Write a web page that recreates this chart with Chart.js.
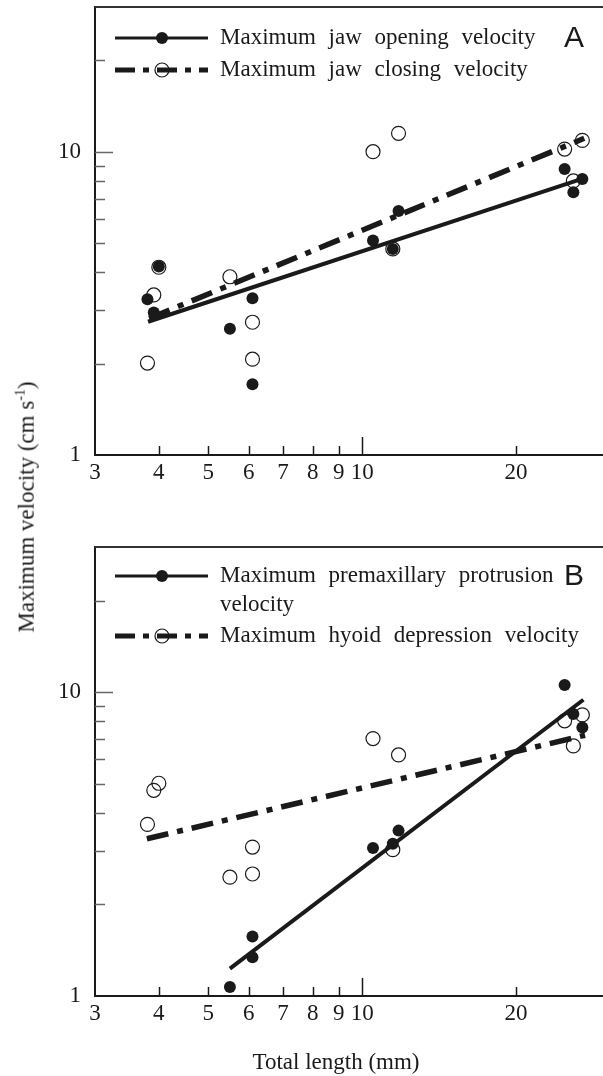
<!DOCTYPE html>
<html>
<head>
<meta charset="utf-8">
<script src="https://cdn.jsdelivr.net/npm/chart.js@4"></script>
<style>
  body { margin: 0; background: #fff; }
  #wrap { position: relative; width: 603px; height: 1076px; }
  #wrap canvas { position: absolute; left: 0; }
  .axis-title { position: absolute; font: 23px "Liberation Serif"; color: #1a1a1a; white-space: nowrap; }
  #ytitle { left: 26px; top: 507px; transform: translate(-50%, -50%) rotate(-90deg); }
  #xtitle { left: 336px; top: 1062px; transform: translate(-50%, -50%); }
  sup { font-size: 14px; }
</style>
</head>
<body>
<div id="wrap">
  <canvas id="chartA" width="603" height="500" style="top:0"></canvas>
  <canvas id="chartB" width="603" height="576" style="top:500px"></canvas>
  <div class="axis-title" id="ytitle">Maximum velocity (cm s<sup>-1</sup>)</div>
  <div class="axis-title" id="xtitle">Total length (mm)</div>
</div>
<script>
// total length of each fish (mm)
const totalLength = [3.80, 3.91, 4.00, 5.51, 6.10, 6.10, 10.5, 11.48, 11.78, 24.9, 25.9, 26.97];

// panel A
const jawOpening = [3.26, 2.95, 4.18, 2.61, 3.29, 1.71, 5.10, 4.78, 6.38, 8.77, 7.35, 8.13];
const jawClosing = [2.01, 3.37, 4.16, 3.87, 2.74, 2.07, 10.0, 4.78, 11.5, 10.2, 8.01, 10.9];
// panel B
const premaxProtrusion = [null, null, null, 1.07, 1.57, 1.34, 3.07, 3.17, 3.50, 10.55, 8.46, 7.64];
const hyoidDepression = [3.67, 4.75, 5.01, 2.46, 3.09, 2.52, 7.03, 3.03, 6.21, 8.04, 6.65, 8.41];

// regression lines (end points)
const openingFitX = [3.81, 27.1], openingFitY = [2.75, 8.17];
const closingFitX = [3.83, 27.2], closingFitY = [2.82, 11.07];
const premaxFitX = [5.51, 27.1], premaxFitY = [1.23, 9.43];
const hyoidFitX = [3.79, 27.3], hyoidFitY = [3.29, 7.21];

const xTicks = [3, 4, 5, 6, 7, 8, 9, 10, 20];
const yTicks = [1, 2, 3, 4, 5, 6, 7, 8, 9, 10, 20];
const yLabels = [1, 10];

const ink = '#1a1a1a';
const serif = 'Liberation Serif';
const dashDot = [22, 9, 6, 9];

function pts(xs, ys) {
  return xs.map((x, i) => ({x: x, y: ys[i]})).filter(p => p.y != null);
}

// short tick marks pointing into the plot + top frame line
const innerTicks = {
  id: 'innerTicks',
  afterDraw(chart) {
    const ctx = chart.ctx, a = chart.chartArea;
    const xs = chart.scales.x, ys = chart.scales.y;
    ctx.save();
    ctx.lineWidth = 1.5;
    ctx.strokeStyle = ink;
    xTicks.forEach(v => {
      if (v === 3) return;
      const px = Math.round(xs.getPixelForValue(v)) + 0.5;
      ctx.beginPath();
      ctx.moveTo(px, a.bottom);
      ctx.lineTo(px, a.bottom - (v === 10 ? 18 : 9));
      ctx.stroke();
    });
    ctx.strokeStyle = '#666';
    yTicks.forEach(v => {
      if (v === 1) return;
      const py = Math.round(ys.getPixelForValue(v)) + 0.5;
      ctx.beginPath();
      ctx.moveTo(a.left, py);
      ctx.lineTo(a.left + (v === 10 ? 18 : 10), py);
      ctx.stroke();
    });
    ctx.strokeStyle = '#333';
    ctx.lineWidth = 2;
    ctx.beginPath();
    ctx.moveTo(a.left, a.top);
    ctx.lineTo(chart.width, a.top);
    ctx.stroke();
    ctx.restore();
  }
};

// legend drawn in the upper-left corner, plus panel letter
const panelLegend = {
  id: 'panelLegend',
  afterDraw(chart, args, opts) {
    const ctx = chart.ctx;
    ctx.save();
    opts.items.forEach(item => {
      ctx.beginPath();
      ctx.setLineDash(item.dash);
      ctx.lineWidth = item.width;
      ctx.strokeStyle = ink;
      ctx.moveTo(115, item.y);
      ctx.lineTo(208, item.y);
      ctx.stroke();
      ctx.setLineDash([]);
      ctx.beginPath();
      ctx.arc(162, item.y, item.filled ? 6 : 7, 0, Math.PI * 2);
      if (item.filled) {
        ctx.fillStyle = ink;
        ctx.fill();
      } else {
        ctx.lineWidth = 1.2;
        ctx.stroke();
      }
      ctx.font = '23px "' + serif + '"';
      ctx.textBaseline = 'middle';
      ctx.fillStyle = ink;
      ctx.wordSpacing = '7px';
      item.lines.forEach((t, i) => ctx.fillText(t, 220, item.y + i * 29));
    });
    ctx.wordSpacing = '0px';
    ctx.font = '30px "Liberation Sans"';
    ctx.textAlign = 'center';
    ctx.textBaseline = 'middle';
    ctx.fillStyle = ink;
    ctx.fillText(opts.letter, 574, opts.letterY);
    ctx.restore();
  }
};

function makeScales(xHeight) {
  return {
    x: {
      type: 'logarithmic', min: 3, max: 29.6,
      afterBuildTicks: s => { s.ticks = xTicks.map(v => ({value: v})); },
      afterFit: s => { s.height = xHeight; s.paddingLeft = 0; s.paddingRight = 0; },
      grid: {display: false, drawTicks: false},
      border: {display: true, color: ink, width: 2},
      ticks: {
        font: {family: serif, size: 23}, color: ink, padding: 4,
        autoSkip: false, maxRotation: 0,
        callback: v => String(v)
      }
    },
    y: {
      type: 'logarithmic', min: 1, max: 30,
      afterBuildTicks: s => { s.ticks = yTicks.map(v => ({value: v})); },
      afterFit: s => { s.width = 95; s.paddingTop = 0; s.paddingBottom = 0; },
      grid: {display: false, drawTicks: false},
      border: {display: true, color: ink, width: 2},
      ticks: {
        font: {family: serif, size: 23}, color: ink, padding: 14,
        autoSkip: false,
        callback: v => yLabels.includes(v) ? String(v) : ''
      }
    }
  };
}

function filledSet(xs, ys) {
  return {data: pts(xs, ys), pointRadius: 6, pointBackgroundColor: ink, pointBorderColor: ink, pointBorderWidth: 0};
}
function openSet(xs, ys) {
  return {data: pts(xs, ys), pointRadius: 7, pointBackgroundColor: 'rgba(0,0,0,0)', pointBorderColor: ink, pointBorderWidth: 1.2};
}
function fitSet(xs, ys, dashed) {
  return {
    data: pts(xs, ys), showLine: true, pointRadius: 0,
    borderColor: ink, borderWidth: dashed ? 5.5 : 4,
    borderDash: dashed ? dashDot : [], borderCapStyle: 'butt'
  };
}

function makeChart(id, datasets, pad, xHeight, legend) {
  return new Chart(document.getElementById(id), {
    type: 'scatter',
    data: {datasets: datasets},
    options: {
      responsive: false,
      animation: false,
      layout: {padding: pad, autoPadding: false},
      scales: makeScales(xHeight),
      plugins: {
        legend: {display: false},
        tooltip: {enabled: false},
        panelLegend: legend
      }
    },
    plugins: [innerTicks, panelLegend]
  });
}

makeChart('chartA', [
  filledSet(totalLength, jawOpening),
  openSet(totalLength, jawClosing),
  fitSet(openingFitX, openingFitY, false),
  fitSet(closingFitX, closingFitY, true)
], {top: 7, right: 0, bottom: 0, left: 0}, 45, {
  letter: 'A', letterY: 39,
  items: [
    {y: 38, dash: [], width: 3, filled: true, lines: ['Maximum jaw opening velocity']},
    {y: 70, dash: [20, 8, 6, 8], width: 5, filled: false, lines: ['Maximum jaw closing velocity']}
  ]
});

makeChart('chartB', [
  filledSet(totalLength, premaxProtrusion),
  openSet(totalLength, hyoidDepression),
  fitSet(premaxFitX, premaxFitY, false),
  fitSet(hyoidFitX, hyoidFitY, true)
], {top: 47, right: 0, bottom: 0, left: 0}, 80, {
  letter: 'B', letterY: 77,
  items: [
    {y: 76, dash: [], width: 3, filled: true, lines: ['Maximum premaxillary protrusion', 'velocity']},
    {y: 136, dash: [20, 8, 6, 8], width: 5, filled: false, lines: ['Maximum hyoid depression velocity']}
  ]
});
</script>
</body>
</html>
